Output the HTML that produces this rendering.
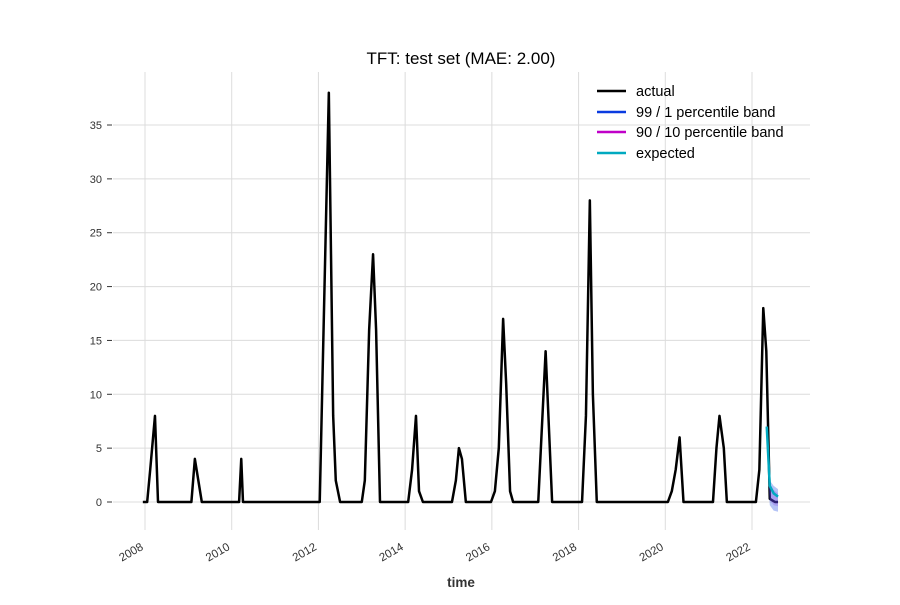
<!DOCTYPE html>
<html><head><meta charset="utf-8"><style>
body{margin:0;background:#fff;font-family:"Liberation Sans",sans-serif}
svg text{font-family:"Liberation Sans",sans-serif}
</style></head><body>
<svg id="chart" width="900" height="600" xmlns="http://www.w3.org/2000/svg">
<rect width="900" height="600" fill="#fff"/>
<text x="461" y="64" font-size="17" text-anchor="middle" fill="#000">TFT: test set (MAE: 2.00)</text>
<g id="grid"></g>
<g id="ticks"></g>
<g id="marks"></g>
<text x="461" y="587" font-size="13.5" font-weight="bold" text-anchor="middle" fill="#333">time</text>
<g font-size="14.5" fill="#000">
<g><line x1="597" y1="91" x2="626" y2="91" stroke="#000" stroke-width="2.5"/><text x="636" y="96">actual</text></g>
<g><line x1="597" y1="112" x2="626" y2="112" stroke="#0a3be0" stroke-width="2.5"/><text x="636" y="117">99 / 1 percentile band</text></g>
<g><line x1="597" y1="132" x2="626" y2="132" stroke="#c000c8" stroke-width="2.5"/><text x="636" y="137">90 / 10 percentile band</text></g>
<g><line x1="597" y1="153" x2="626" y2="153" stroke="#00a9c0" stroke-width="2.5"/><text x="636" y="158">expected</text></g>
</g>
</svg>
<script>
const actualT=[2007.95,2008.05,2008.12,2008.23,2008.30,2009.07,2009.15,2009.31,2010.17,2010.22,2010.26,2012.03,2012.24,2012.34,2012.40,2012.50,2013.0,2013.07,2013.17,2013.26,2013.33,2013.42,2014.07,2014.16,2014.25,2014.32,2014.41,2015.08,2015.17,2015.24,2015.31,2015.40,2015.98,2016.07,2016.16,2016.26,2016.33,2016.42,2016.49,2017.07,2017.24,2017.39,2018.08,2018.17,2018.26,2018.33,2018.42,2020.06,2020.15,2020.24,2020.33,2020.42,2021.10,2021.18,2021.25,2021.35,2021.42,2022.09,2022.17,2022.26,2022.33,2022.41,2022.53,2022.60];
const actualV=[0,0,3,8,0,0,4,0,0,4,0,0,38,8,2,0,0,2,16,23,16,0,0,3,8,1,0,0,2,5,4,0,0,1,5,17,11,1,0,0,14,0,0,8,28,10,0,0,1,3,6,0,0,5,8,5,0,0,3,18,14,0.3,0,0];
const fcT=[2022.34,2022.41,2022.50,2022.60];
const fcMean=[7,1.5,0.8,0.5];
const fcHi99=[7.5,2.0,1.5,1.2];
const fcLo99=[5,-0.3,-0.8,-0.9];
const fcHi90=[7.2,1.7,1.1,0.8];
const fcLo90=[5.6,0.2,-0.3,-0.4];
const yTicks=[0,5,10,15,20,25,30,35];
const xTicks=[2008,2010,2012,2014,2016,2018,2020,2022];
const X=t=>145+(t-2008)*43.357;
const Y=v=>502-v*10.771;
const NS='http://www.w3.org/2000/svg';
function mk(tag,attrs,parent){const e=document.createElementNS(NS,tag);for(const k in attrs)e.setAttribute(k,attrs[k]);parent.appendChild(e);return e;}
const grid=document.getElementById('grid'),ticks=document.getElementById('ticks'),marks=document.getElementById('marks');
xTicks.forEach(t=>{
  const l=mk('line',{x1:X(t),x2:X(t),y1:72,y2:530,stroke:'#dcdcdc','stroke-width':1},grid);
  
  
  const lx=X(t)-1,ly=549;
  const tx=mk('text',{x:lx,y:ly,'font-size':11.5,fill:'#333','text-anchor':'end',transform:`rotate(-30 ${lx} ${ly})`},ticks);
  tx.textContent=t;
  
  
});
yTicks.forEach(v=>{
  const l=mk('line',{x1:113,x2:810,y1:Y(v),y2:Y(v),stroke:'#dcdcdc','stroke-width':1},grid);
  
  
  const tk=mk('line',{x1:107,x2:112,y1:Y(v),y2:Y(v),stroke:'#333','stroke-width':1},ticks);
  
  
  const tx=mk('text',{x:102,y:Y(v)+4,'font-size':11,fill:'#333','text-anchor':'end'},ticks);
  tx.textContent=v;
  
  
});
const pts=(ts,vs)=>ts.map((t,i)=>X(t)+','+Y(vs[i])).join(' ');
const band=(hi,lo)=>pts(fcT,hi)+' '+fcT.slice().reverse().map((t,i)=>X(t)+','+Y(lo[lo.length-1-i])).join(' ');
const a=mk('polyline',{points:pts(actualT,actualV),fill:'none',stroke:'#000','stroke-width':2.5,'stroke-linejoin':'round'},marks);


const b99=mk('polygon',{points:band(fcHi99,fcLo99),fill:'#0a3be0','fill-opacity':0.3},marks);


const b90=mk('polygon',{points:band(fcHi90,fcLo90),fill:'#8a4ae0','fill-opacity':0.3},marks);


const m=mk('polyline',{points:pts(fcT,fcMean),fill:'none',stroke:'#00a9c0','stroke-width':2.5},marks);


</script>
</body></html>
